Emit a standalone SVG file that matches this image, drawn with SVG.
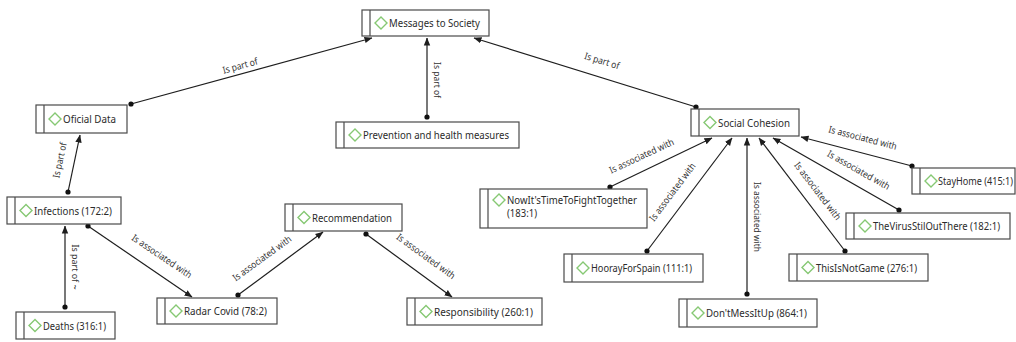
<svg xmlns="http://www.w3.org/2000/svg" width="1016" height="342" viewBox="0 0 1016 342">
  <style>
    .box { fill: #ffffff; stroke: #4a4a4a; stroke-width: 1.2; }
    .bar { stroke: #4a4a4a; stroke-width: 1.2; }
    .dia { fill: none; stroke: #86c873; stroke-width: 1.4; }
    .name { font-family: "Noto Sans", "Open Sans", sans-serif; font-size: 11px; fill: #2b2b2b; }
    .edge { stroke: #1e1e1e; stroke-width: 1.2; fill: none; marker-start: url(#dot); marker-end: url(#arr); }
    .lbl { font-family: "Noto Sans", "Open Sans", sans-serif; font-size: 9.5px; fill: #333333; text-anchor: middle; }
  </style>
  <defs>
    <marker id="arr" viewBox="0 0 8 8" refX="7.5" refY="4" markerWidth="8" markerHeight="8" markerUnits="userSpaceOnUse" orient="auto">
      <path d="M0,0.8 L8,4 L0,7.2 z" fill="#1e1e1e"/>
    </marker>
    <marker id="dot" viewBox="0 0 6 6" refX="3" refY="3" markerWidth="6" markerHeight="6" markerUnits="userSpaceOnUse">
      <circle cx="3" cy="3" r="2.6" fill="#111111"/>
    </marker>
    <path id="dmd" d="M0,-6 L6,0 L0,6 L-6,0 z"/>
  </defs>
  <rect width="1016" height="342" fill="#ffffff"/>

  <!-- connectors: dot at the source end, arrowhead at the target -->
  <g id="connectors">
    <line class="edge" x1="131" y1="104" x2="372" y2="38"/>
    <text class="lbl" transform="translate(241,69) rotate(-15.3)" textLength="36" lengthAdjust="spacingAndGlyphs">Is part of</text>

    <line class="edge" x1="427" y1="117" x2="427" y2="38"/>
    <text class="lbl" transform="translate(434,80) rotate(90)" textLength="36" lengthAdjust="spacingAndGlyphs">Is part of</text>

    <line class="edge" x1="696" y1="107" x2="474" y2="38"/>
    <text class="lbl" transform="translate(601,64) rotate(17)" textLength="36" lengthAdjust="spacingAndGlyphs">Is part of</text>

    <line class="edge" x1="68" y1="192" x2="80" y2="135"/>
    <text class="lbl" transform="translate(63,161) rotate(-77.7)" textLength="36" lengthAdjust="spacingAndGlyphs">Is part of</text>

    <line class="edge" x1="65" y1="307" x2="65" y2="226"/>
    <text class="lbl" transform="translate(72,267) rotate(90)" textLength="45" lengthAdjust="spacingAndGlyphs">Is part of ~</text>

    <line class="edge" x1="88" y1="226" x2="192" y2="297"/>
    <text class="lbl" transform="translate(160,259) rotate(34)" textLength="70" lengthAdjust="spacingAndGlyphs">Is associated with</text>

    <line class="edge" x1="238" y1="295" x2="323" y2="232"/>
    <text class="lbl" transform="translate(264,261) rotate(-36)" textLength="70" lengthAdjust="spacingAndGlyphs">Is associated with</text>

    <line class="edge" x1="366" y1="234" x2="452" y2="297"/>
    <text class="lbl" transform="translate(424,259) rotate(36)" textLength="70" lengthAdjust="spacingAndGlyphs">Is associated with</text>

    <line class="edge" x1="610" y1="187" x2="712" y2="138"/>
    <text class="lbl" transform="translate(643,159) rotate(-25)" textLength="70" lengthAdjust="spacingAndGlyphs">Is associated with</text>

    <line class="edge" x1="647" y1="251" x2="732" y2="138"/>
    <text class="lbl" transform="translate(675,194) rotate(-53)" textLength="70" lengthAdjust="spacingAndGlyphs">Is associated with</text>

    <line class="edge" x1="747" y1="294" x2="747" y2="138"/>
    <text class="lbl" transform="translate(754,217) rotate(90)" textLength="70" lengthAdjust="spacingAndGlyphs">Is associated with</text>

    <line class="edge" x1="845" y1="251" x2="759" y2="138"/>
    <text class="lbl" transform="translate(815,193) rotate(52.5)" textLength="70" lengthAdjust="spacingAndGlyphs">Is associated with</text>

    <line class="edge" x1="899" y1="210" x2="773" y2="138"/>
    <text class="lbl" transform="translate(857,173) rotate(29.4)" textLength="70" lengthAdjust="spacingAndGlyphs">Is associated with</text>

    <line class="edge" x1="912" y1="166" x2="801" y2="137"/>
    <text class="lbl" transform="translate(862,141) rotate(14.5)" textLength="70" lengthAdjust="spacingAndGlyphs">Is associated with</text>
  </g>

  <g id="messages-to-society">
    <rect class="box" x="362" y="10" width="127" height="26"/>
    <line class="bar" x1="370" y1="10" x2="370" y2="36"/>
    <use href="#dmd" class="dia" x="381" y="23"/>
    <text class="name" x="389" y="27" textLength="91" lengthAdjust="spacingAndGlyphs">Messages to Society</text>
  </g>

  <g id="oficial-data">
    <rect class="box" x="36" y="105" width="91" height="28"/>
    <line class="bar" x1="44" y1="105" x2="44" y2="133"/>
    <use href="#dmd" class="dia" x="55" y="119"/>
    <text class="name" x="63" y="123" textLength="53" lengthAdjust="spacingAndGlyphs">Oficial Data</text>
  </g>

  <g id="prevention">
    <rect class="box" x="336" y="122" width="183" height="26"/>
    <line class="bar" x1="344" y1="122" x2="344" y2="148"/>
    <use href="#dmd" class="dia" x="355" y="135"/>
    <text class="name" x="363" y="139" textLength="146" lengthAdjust="spacingAndGlyphs">Prevention and health measures</text>
  </g>

  <g id="social-cohesion">
    <rect class="box" x="691" y="109" width="108" height="27"/>
    <line class="bar" x1="699" y1="109" x2="699" y2="136"/>
    <use href="#dmd" class="dia" x="710" y="122.5"/>
    <text class="name" x="718" y="126.5" textLength="72" lengthAdjust="spacingAndGlyphs">Social Cohesion</text>
  </g>

  <g id="infections">
    <rect class="box" x="7" y="197" width="114" height="27"/>
    <line class="bar" x1="15" y1="197" x2="15" y2="224"/>
    <use href="#dmd" class="dia" x="26" y="210.5"/>
    <text class="name" x="34" y="214.5" textLength="78" lengthAdjust="spacingAndGlyphs">Infections (172:2)</text>
  </g>

  <g id="deaths">
    <rect class="box" x="16" y="312" width="99" height="27"/>
    <line class="bar" x1="24" y1="312" x2="24" y2="339"/>
    <use href="#dmd" class="dia" x="35" y="325.5"/>
    <text class="name" x="43" y="329.5" textLength="63" lengthAdjust="spacingAndGlyphs">Deaths (316:1)</text>
  </g>

  <g id="radar-covid">
    <rect class="box" x="157" y="298" width="120" height="26"/>
    <line class="bar" x1="165" y1="298" x2="165" y2="324"/>
    <use href="#dmd" class="dia" x="176" y="311"/>
    <text class="name" x="184" y="315" textLength="83" lengthAdjust="spacingAndGlyphs">Radar Covid (78:2)</text>
  </g>

  <g id="recommendation">
    <rect class="box" x="285" y="204" width="117" height="27"/>
    <line class="bar" x1="293" y1="204" x2="293" y2="231"/>
    <use href="#dmd" class="dia" x="304" y="217.5"/>
    <text class="name" x="312" y="221.5" textLength="80" lengthAdjust="spacingAndGlyphs">Recommendation</text>
  </g>

  <g id="responsibility">
    <rect class="box" x="407" y="298" width="135" height="27"/>
    <line class="bar" x1="415" y1="298" x2="415" y2="325"/>
    <use href="#dmd" class="dia" x="426" y="311.5"/>
    <text class="name" x="434" y="315.5" textLength="99" lengthAdjust="spacingAndGlyphs">Responsibility (260:1)</text>
  </g>

  <g id="now-its-time">
    <rect class="box" x="480" y="189" width="167" height="39"/>
    <line class="bar" x1="488" y1="189" x2="488" y2="228"/>
    <use href="#dmd" class="dia" x="499" y="200"/>
    <text class="name" x="507" y="204" textLength="130" lengthAdjust="spacingAndGlyphs">NowIt'sTimeToFightTogether</text>
    <text class="name" x="507" y="217" textLength="30" lengthAdjust="spacingAndGlyphs">(183:1)</text>
  </g>

  <g id="hooray-for-spain">
    <rect class="box" x="564" y="254" width="139" height="28"/>
    <line class="bar" x1="572" y1="254" x2="572" y2="282"/>
    <use href="#dmd" class="dia" x="583" y="268"/>
    <text class="name" x="591" y="272" textLength="101" lengthAdjust="spacingAndGlyphs">HoorayForSpain (111:1)</text>
  </g>

  <g id="dont-mess-it-up">
    <rect class="box" x="679" y="299" width="138" height="28"/>
    <line class="bar" x1="687" y1="299" x2="687" y2="327"/>
    <use href="#dmd" class="dia" x="698" y="313"/>
    <text class="name" x="706" y="317" textLength="101" lengthAdjust="spacingAndGlyphs">Don'tMessItUp (864:1)</text>
  </g>

  <g id="this-is-not-game">
    <rect class="box" x="789" y="254" width="139" height="27"/>
    <line class="bar" x1="797" y1="254" x2="797" y2="281"/>
    <use href="#dmd" class="dia" x="808" y="267.5"/>
    <text class="name" x="816" y="271.5" textLength="101" lengthAdjust="spacingAndGlyphs">ThisIsNotGame (276:1)</text>
  </g>

  <g id="the-virus-stil-out-there">
    <rect class="box" x="846" y="213" width="164" height="26"/>
    <line class="bar" x1="854" y1="213" x2="854" y2="239"/>
    <use href="#dmd" class="dia" x="865" y="226"/>
    <text class="name" x="873" y="230" textLength="127" lengthAdjust="spacingAndGlyphs">TheVirusStilOutThere (182:1)</text>
  </g>

  <g id="stay-home">
    <rect class="box" x="912" y="168" width="103" height="26"/>
    <line class="bar" x1="920" y1="168" x2="920" y2="194"/>
    <use href="#dmd" class="dia" x="931" y="181"/>
    <text class="name" x="938" y="185" textLength="75" lengthAdjust="spacingAndGlyphs">StayHome (415:1)</text>
  </g>
</svg>
